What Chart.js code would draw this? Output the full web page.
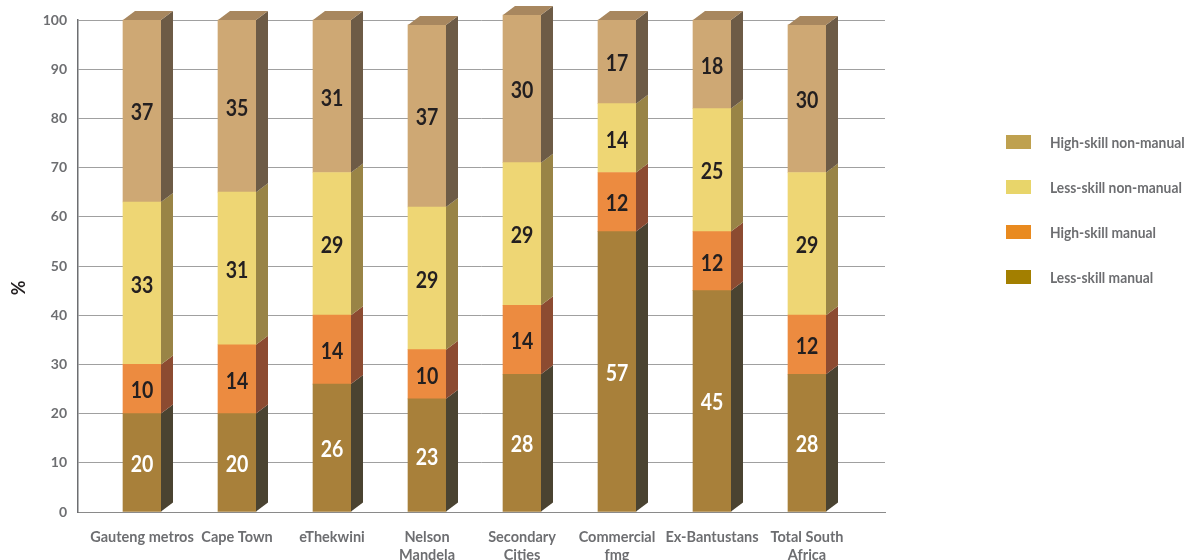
<!DOCTYPE html>
<html>
<head>
<meta charset="utf-8">
<script src="https://cdn.jsdelivr.net/npm/chart.js@4.4.1/dist/chart.umd.min.js"></script>
<style>
  html, body { margin: 0; padding: 0; background: #fff; }
  #wrap { position: relative; width: 1187px; height: 560px; }
  #chart { position: absolute; left: 0; top: 0; }
  .legend { position: absolute; left: 1006px; top: 135px; margin: 0; padding: 0; list-style: none;
    font-family: Lato, "DejaVu Sans Condensed", sans-serif;
    font-weight: bold; font-size: 15px; color: #6d6e71; }
  .legend li { position: relative; height: 45px; }
  .legend .swatch { position: absolute; left: 0; top: 0; width: 25px; height: 14px; }
  .legend .text { position: absolute; left: 44px; top: -2px; line-height: 18px; white-space: nowrap;
    transform: scaleX(0.92); transform-origin: left center; }
</style>
</head>
<body>
<div id="wrap">
  <canvas id="chart" width="1187" height="560"></canvas>
  <ul class="legend" id="legend"></ul>
</div>
<script>
const regions = ['Gauteng metros', 'Cape Town', 'eThekwini', ['Nelson', 'Mandela'], ['Secondary', 'Cities'], ['Commercial', 'fmg'], 'Ex-Bantustans', ['Total South', 'Africa']]
const lessSkillManual = [20, 20, 26, 23, 28, 57, 45, 28]
const highSkillManual = [10, 14, 14, 10, 14, 12, 12, 12]
const lessSkillNonManual = [33, 31, 29, 29, 29, 14, 25, 29]
const highSkillNonManual = [37, 35, 31, 37, 30, 17, 18, 30]
const seriesNames = ['Less-skill manual', 'High-skill manual', 'Less-skill non-manual', 'High-skill non-manual']
const yMin = 0
const yMax = 100
const yStep = 10

const fontFamily = 'Lato, "DejaVu Sans Condensed", sans-serif'

// front face, side face and legend swatch colours, bottom segment first
const frontColors = ['#a8803a', '#ec8b40', '#eed674', '#cea874']
const sideColors = ['#4a4331', '#8c4b31', '#998446', '#6d5b46']
const legendColors = ['#a37f00', '#e98a1f', '#e8d56a', '#bfa14f']
const labelColors = ['#ffffff', '#231f20', '#231f20', '#231f20']
const topFaceColor = '#a8875f'

const seriesValues = [lessSkillManual, highSkillManual, lessSkillNonManual, highSkillNonManual]

const datasets = seriesValues.map((values, i) => ({
  label: seriesNames[i],
  data: values.map((v, idx) => ({ x: idx, y: v })),
  backgroundColor: frontColors[i],
  sideColor: sideColors[i],
  valueColor: labelColors[i],
  borderWidth: 0,
  barThickness: 38,
  clip: false
}))

// legend, top entry is the last series
const legendEl = document.getElementById('legend')
for (let i = seriesNames.length - 1; i >= 0; i--) {
  const li = document.createElement('li')
  li.innerHTML = '<span class="swatch" style="background:' + legendColors[i] + '"></span><span class="text">' + seriesNames[i] + '</span>'
  legendEl.appendChild(li)
}

// depth faces on the right and on top of each column, plus the value in each segment
const boxSides = {
  id: 'boxSides',
  afterDatasetsDraw(chart) {
    const ctx = chart.ctx
    const dx = 12
    const dy = 9
    const last = chart.data.datasets.length - 1
    ctx.save()
    chart.data.datasets.forEach((ds, di) => {
      chart.getDatasetMeta(di).data.forEach(bar => {
        const l = bar.x - bar.width / 2
        const r = bar.x + bar.width / 2
        ctx.fillStyle = ds.sideColor
        ctx.beginPath()
        ctx.moveTo(r, bar.y)
        ctx.lineTo(r + dx, bar.y - dy)
        ctx.lineTo(r + dx, bar.base - dy)
        ctx.lineTo(r, bar.base)
        ctx.closePath()
        ctx.fill()
        if (di === last) {
          ctx.fillStyle = topFaceColor
          ctx.beginPath()
          ctx.moveTo(l, bar.y)
          ctx.lineTo(l + dx, bar.y - dy)
          ctx.lineTo(r + dx, bar.y - dy)
          ctx.lineTo(r, bar.y)
          ctx.closePath()
          ctx.fill()
        }
      })
    })
    // values, squeezed a little to look like a condensed face
    ctx.font = 'bold 23px ' + fontFamily
    ctx.textAlign = 'center'
    ctx.textBaseline = 'middle'
    chart.data.datasets.forEach((ds, di) => {
      chart.getDatasetMeta(di).data.forEach((bar, idx) => {
        ctx.save()
        ctx.translate(bar.x, (bar.y + bar.base) / 2 + 2)
        ctx.scale(0.85, 1)
        ctx.fillStyle = ds.valueColor
        ctx.fillText(String(ds.data[idx].y), 0, 0)
        ctx.restore()
      })
    })
    ctx.restore()
  }
}

new Chart(document.getElementById('chart'), {
  type: 'bar',
  data: { datasets: datasets },
  plugins: [boxSides],
  options: {
    responsive: false,
    animation: false,
    layout: { padding: { top: 20, right: 302, bottom: 0, left: 0 } },
    plugins: {
      legend: { display: false },
      tooltip: { enabled: false }
    },
    scales: {
      x: {
        type: 'linear',
        stacked: true,
        offset: false,
        min: -0.6737,
        max: 7.8211,
        afterFit: scale => { scale.height = 48 },
        afterBuildTicks: scale => {
          scale.ticks = regions.map((r, i) => ({ value: i }))
        },
        grid: { display: false },
        border: { display: true, color: '#8a8a8a', width: 1 },
        ticks: {
          autoSkip: false,
          maxRotation: 0,
          padding: 9,
          color: '#6d6e71',
          font: { family: fontFamily, size: 14.5, weight: 'bold', lineHeight: 1.2 },
          callback: value => regions[value] !== undefined ? regions[value] : ''
        }
      },
      y: {
        stacked: true,
        min: yMin,
        max: yMax,
        afterFit: scale => { scale.width = 78 },
        grid: { color: '#a0a0a0', lineWidth: 1, drawTicks: false },
        border: { display: true, color: '#6d6e71', width: 1.5 },
        ticks: {
          stepSize: yStep,
          padding: 11,
          color: '#6d6e71',
          font: { family: fontFamily, size: 14, weight: 'bold' }
        },
        title: {
          display: true,
          // trailing spaces nudge the rotated sign a little below the middle
          text: '%          ',
          color: '#231f20',
          padding: { top: 8, bottom: 0 },
          font: { family: fontFamily, size: 18, weight: 'bold' }
        }
      }
    }
  }
})
</script>
</body>
</html>
